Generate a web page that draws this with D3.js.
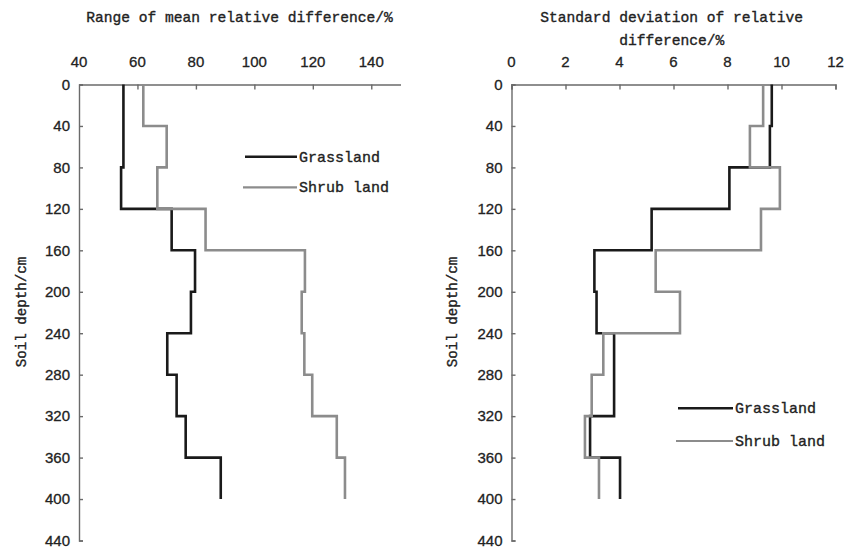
<!DOCTYPE html>
<html>
<head>
<meta charset="utf-8">
<script src="https://cdn.jsdelivr.net/npm/d3@7"></script>
<style>
  html, body { margin: 0; padding: 0; background: #fff; }
  svg { display: block; }
</style>
</head>
<body>
<svg id="chart" width="859" height="549"></svg>
<script>
// Soil depth intervals (cm): each value holds from depths[i] to depths[i+1]
const depths = [0, 40, 80, 120, 160, 200, 240, 280, 320, 360, 400];
const depthTicks = [0, 40, 80, 120, 160, 200, 240, 280, 320, 360, 400, 440];

// Range of mean relative difference (%)
const grassRange = [55.2, 55.2, 54.4, 71.7, 79.7, 78.3, 70.2, 73.4, 76.5, 88.5];
const shrubRange = [62.0, 70.0, 66.8, 83.3, 117.3, 116.2, 117.1, 119.8, 128.2, 131.0];
const rangeTicks = [60, 80, 100, 120, 140];
const rangeTickLabels = [40, 60, 80, 100, 120, 140];

// Standard deviation of relative difference (%)
const grassSD = [9.64, 9.57, 8.07, 5.19, 3.07, 3.15, 3.80, 3.80, 2.91, 4.02];
const shrubSD = [9.32, 8.83, 9.94, 9.24, 5.34, 6.24, 3.40, 2.97, 2.72, 3.24];
const sdTicks = [0, 2, 4, 6, 8, 10, 12];

const seriesNames = ["Grassland", "Shrub land"];
const seriesColors = ["#1a1a1a", "#8c8c8c"];

const svg = d3.select("#chart");
const monoFont = "'Liberation Mono', 'DejaVu Sans Mono', monospace";
const numFont = "'Liberation Sans', Arial, sans-serif";
const axisColor = "#6a6a6a";
const textColor = "#222";

function stepPoints(values) {
  return values.flatMap((v, i) => [[v, depths[i]], [v, depths[i + 1]]]);
}

// slightly heavier strokes for the typewriter-style labels
function monoText(sel, size) {
  return sel.attr("font-family", monoFont)
    .attr("font-size", size)
    .attr("fill", textColor)
    .attr("stroke", textColor)
    .attr("stroke-width", 0.35);
}

function numText(sel) {
  return sel.attr("font-family", numFont)
    .attr("font-size", 15)
    .attr("fill", textColor)
    .attr("stroke", textColor)
    .attr("stroke-width", 0.3);
}

function panel(opts) {
  const x = d3.scaleLinear().domain(opts.xDomain).range(opts.xRange);
  const y = d3.scaleLinear().domain([0, 440]).range([84.5, 540.5]);
  const g = svg.append("g");

  // top value axis, ticks pointing into the plot
  const xAxis = d3.axisTop(x)
    .tickValues(opts.xTicks)
    .tickSizeInner(-5)
    .tickSizeOuter(opts.xOuter)
    .tickFormat(d3.format("d"));
  const gx = g.append("g").attr("transform", `translate(0,${y(0)})`).call(xAxis);
  gx.selectAll("text").remove();
  gx.selectAll("path, line").attr("stroke", axisColor).attr("stroke-width", 1.4);

  // value labels above the axis
  numText(g.append("g").selectAll("text")
    .data(opts.xLabels)
    .join("text")
    .attr("x", d => x(d))
    .attr("y", y(0) - 18)
    .attr("text-anchor", "middle"))
    .text(d => d);

  // depth axis
  const yAxis = d3.axisLeft(y)
    .tickValues(depthTicks)
    .tickSizeInner(-4)
    .tickSizeOuter(-4)
    .tickPadding(9)
    .tickFormat(d3.format("d"));
  const gy = g.append("g").attr("transform", `translate(${x(opts.xDomain[0])},0)`).call(yAxis);
  gy.selectAll("path, line").attr("stroke", axisColor).attr("stroke-width", 1.4);
  numText(gy.selectAll("text"));

  // title
  const title = monoText(g.append("text").attr("text-anchor", "middle"), 14.6);
  opts.title.forEach((line, i) => {
    title.append("tspan")
      .attr("x", opts.titleX)
      .attr("y", 21.5 + i * 23)
      .text(line);
  });

  // depth axis title
  monoText(g.append("text")
    .attr("transform", `translate(${opts.yTitleX},312) rotate(-90)`)
    .attr("text-anchor", "middle"), 14.2)
    .text("Soil depth/cm");

  // stepped profiles
  const line = d3.line().x(d => x(d[0])).y(d => y(d[1]));
  opts.series.forEach((vals, i) => {
    g.append("path")
      .attr("d", line(stepPoints(vals)))
      .attr("fill", "none")
      .attr("stroke", seriesColors[i])
      .attr("stroke-width", 2.6)
      .attr("stroke-linejoin", "miter");
  });

  // legend
  seriesNames.forEach((name, i) => {
    const ly = opts.legendY[i];
    g.append("line")
      .attr("x1", opts.legendX[0] - (i ? 2 : 0)).attr("x2", opts.legendX[1])
      .attr("y1", ly).attr("y2", ly)
      .attr("stroke", seriesColors[i])
      .attr("stroke-width", i ? 2.2 : 2.6);
    monoText(g.append("text")
      .attr("x", opts.legendX[1] + 2)
      .attr("y", ly + 5), 15)
      .text(name);
  });
}

panel({
  xDomain: [40, 150],
  xRange: [79, 400.5],
  xTicks: rangeTicks,
  xLabels: rangeTickLabels,
  xOuter: 0,
  title: ["Range of mean relative difference/%"],
  titleX: 239.5,
  yTitleX: 26,
  series: [grassRange, shrubRange],
  legendX: [245, 297],
  legendY: [156.7, 187.3]
});

panel({
  xDomain: [0, 12],
  xRange: [511.5, 835.5],
  xTicks: sdTicks,
  xLabels: sdTicks,
  xOuter: -5,
  title: ["Standard deviation of relative", "difference/%"],
  titleX: 671.7,
  yTitleX: 457,
  series: [grassSD, shrubSD],
  legendX: [678, 733],
  legendY: [408.3, 441]
});
</script>
</body>
</html>
